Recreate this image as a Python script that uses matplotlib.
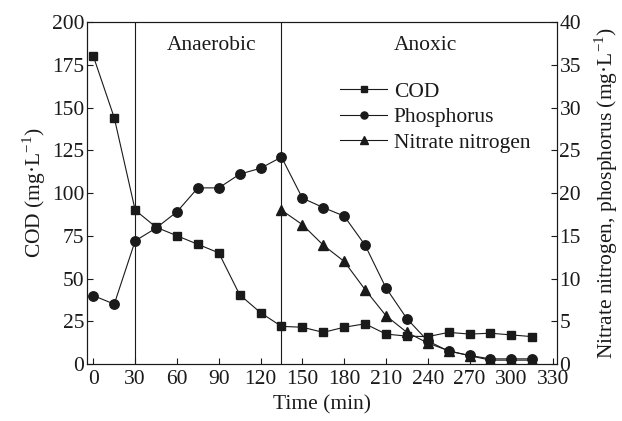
import matplotlib
matplotlib.use("Agg")
import matplotlib.pyplot as plt

# Data
time_min = [0, 15, 30, 45, 60, 75, 90, 105, 120, 135, 150, 165, 180, 195,
            210, 225, 240, 255, 270, 285, 300, 315]
cod = [180, 144, 90, 80, 75, 70, 65, 40.5, 30, 22, 21.5, 18.5, 21.5, 23.5,
       17.5, 16.3, 16, 18.5, 17.5, 18, 17, 16]
phosphorus = [8.0, 7.0, 14.4, 15.9, 17.8, 20.6, 20.6, 22.2, 22.9, 24.2, 19.4,
              18.3, 17.3, 13.9, 8.9, 5.3, 2.7, 1.5, 1.0, 0.6, 0.6, 0.6]
nitrate_time = [135, 150, 165, 180, 195, 210, 225, 240, 255, 270, 285, 300, 315]
nitrate = [18.0, 16.3, 13.9, 12.0, 8.7, 5.65, 3.7, 2.45, 1.55, 0.97, 0.45, 0.45, 0.45]

phase_bounds = [30, 135]
x_ticks = list(range(0, 331, 30))

plt.rcParams["font.family"] = ["Liberation Serif", "DejaVu Serif"]
plt.rcParams["mathtext.fontset"] = "custom"
plt.rcParams["mathtext.rm"] = "Liberation Serif"
plt.rcParams["font.size"] = 15.5
plt.rcParams["xtick.direction"] = "in"
plt.rcParams["ytick.direction"] = "in"

ink = "#1a1a1a"
fig = plt.figure(figsize=(6.22, 4.21), dpi=100)
ax = fig.add_axes([0.14, 0.1354, 0.755, 0.8123])
ax2 = ax.twinx()

l1, = ax.plot(time_min, cod, color=ink, lw=0.8, marker="s", ms=6, label="COD")
l2, = ax2.plot(time_min, phosphorus, color=ink, lw=0.8, marker="o", ms=6.8, label="Phosphorus")
l3, = ax2.plot(nitrate_time, nitrate, color=ink, lw=0.8, marker="^", ms=7.3,
               label="Nitrate nitrogen")

for xb in phase_bounds:
    ax.axvline(xb, color=ink, lw=0.8)

ax.text(85, 186, "Anaerobic", ha="center", va="center", color=ink)
ax.text(238, 186, "Anoxic", ha="center", va="center", color=ink)

ax.set_xlim(-4.5, 332.5)
ax.set_ylim(0, 200)
ax2.set_ylim(0, 40)
ax.set_xticks(x_ticks)
ax.set_yticks(range(0, 201, 25))
ax2.set_yticks(range(0, 41, 5))

ax.set_xlabel("Time (min)", color=ink, labelpad=5)
ax.set_ylabel("COD (mg·L$^{\\mathregular{-1}}$)", color=ink, labelpad=3)
ax2.set_ylabel("Nitrate nitrogen, phosphorus (mg·L$^{\\mathregular{-1}}$)",
               color=ink, labelpad=8)

for a in (ax, ax2):
    a.tick_params(colors=ink, length=4, width=0.8, pad=2)
    for s in a.spines.values():
        s.set_color(ink)
        s.set_linewidth(0.8)
ax.tick_params(top=False)
ax.tick_params(axis="x", pad=4)

ax.legend(handles=[l1, l2, l3], loc="upper left", bbox_to_anchor=(0.52, 0.85),
          frameon=False, handlelength=2.2, handletextpad=0.3, labelspacing=0.25,
          labelcolor=ink, borderaxespad=0, markerscale=0.75)

fig.savefig("out.png", dpi=100)
